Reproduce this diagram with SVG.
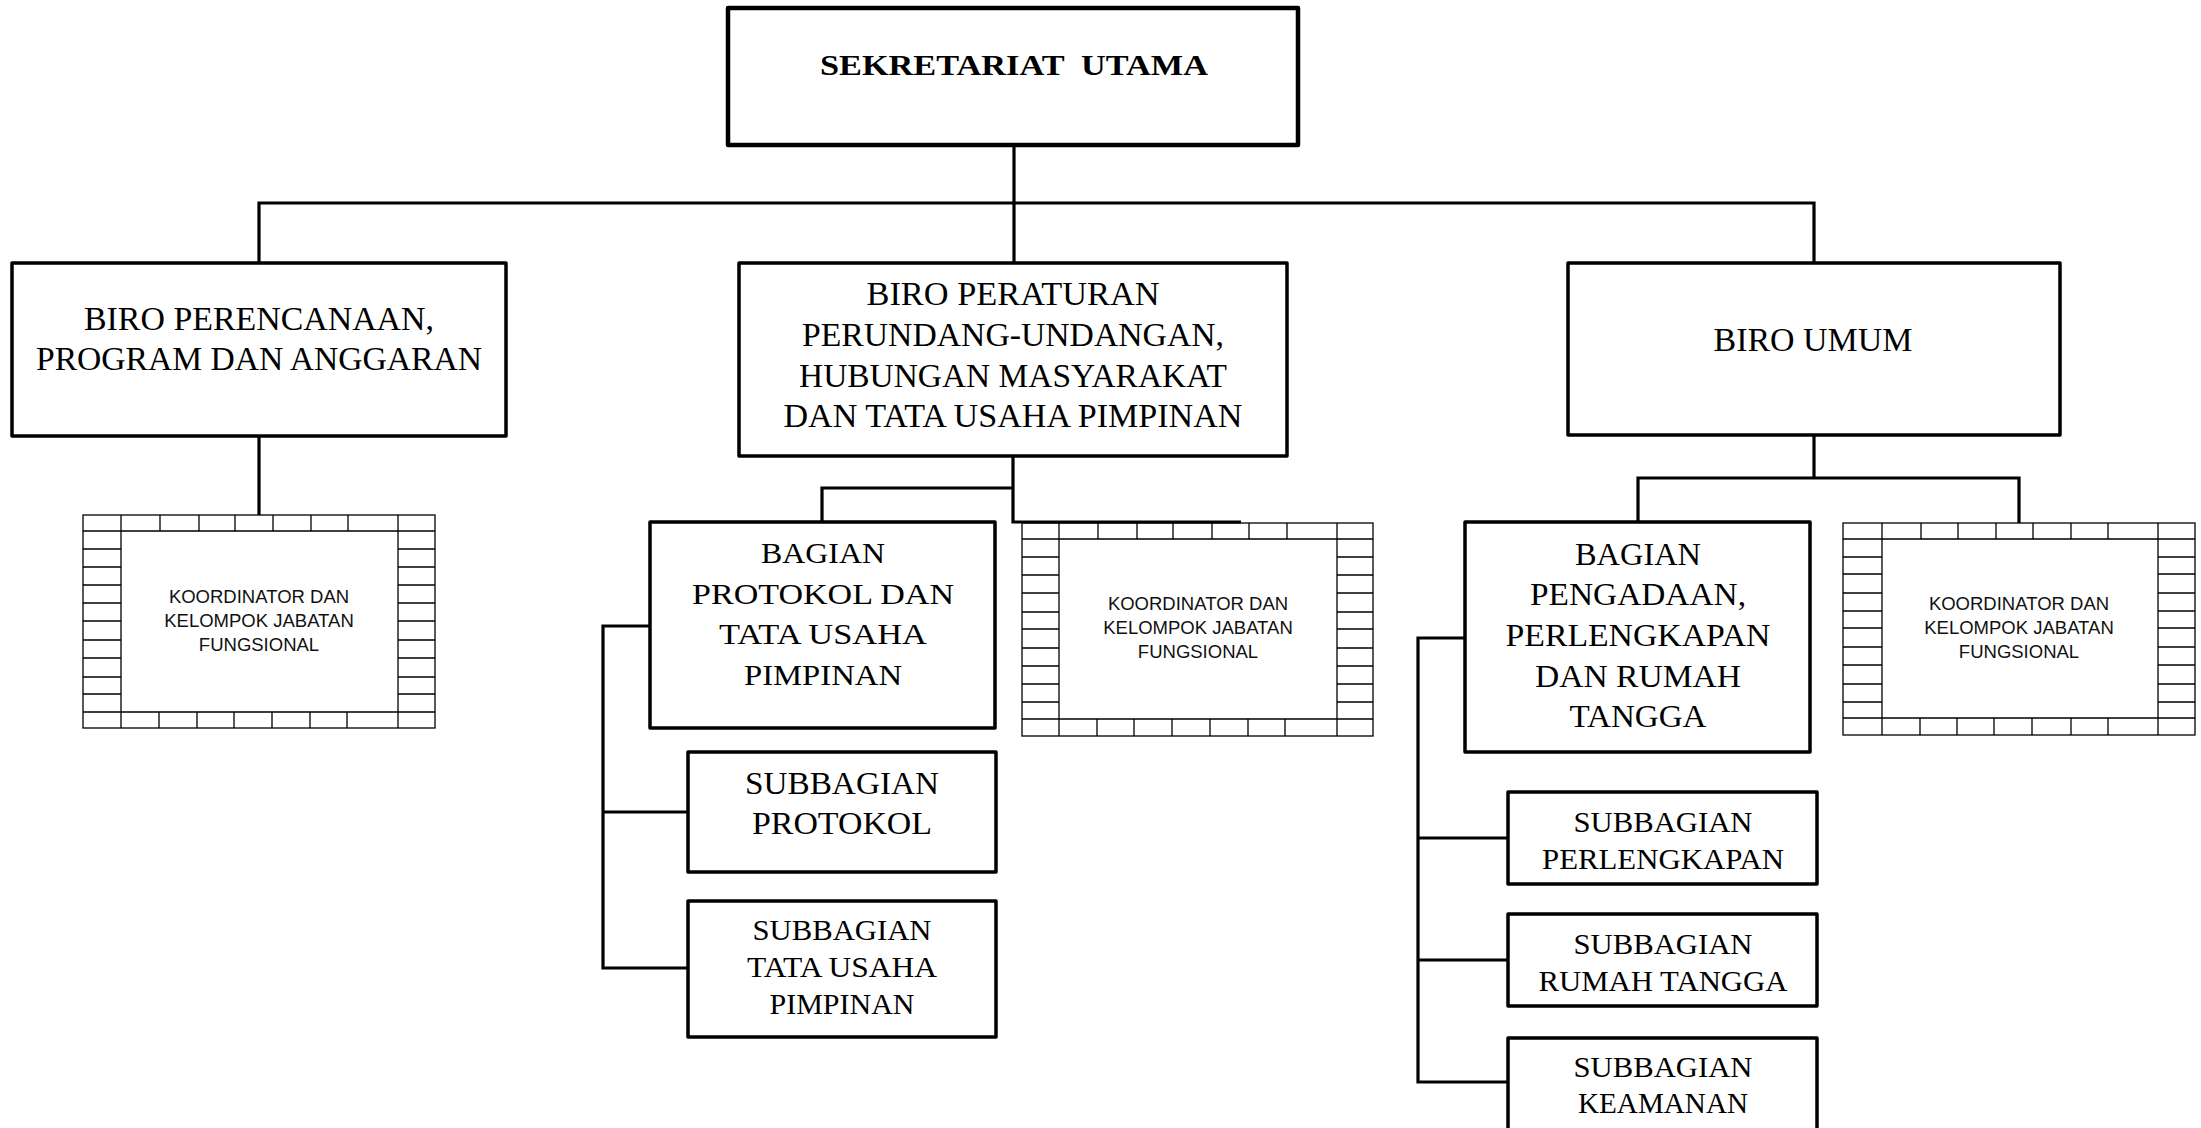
<svg xmlns="http://www.w3.org/2000/svg" width="2201" height="1128" viewBox="0 0 2201 1128">
<style>
.box{fill:#fff;stroke:#000;stroke-width:3.5;stroke-linejoin:round}
.top{stroke-width:4.5}
.conn{fill:none;stroke:#000;stroke-width:3.2;stroke-linejoin:miter}
.brick{fill:#fff;stroke:#000;stroke-width:1.3}
.bl{fill:none;stroke:#000;stroke-width:1.3}
.t{font-family:"Liberation Serif","Times New Roman",serif;text-anchor:middle;fill:#000}
.b{font-weight:bold}
.s{font-family:"Liberation Sans",Arial,sans-serif;font-size:18.5px;text-anchor:middle;fill:#111}
</style>
<rect width="2201" height="1128" fill="#fff"/>

<g id="sekretariat-utama">
<rect class="box top" x="728" y="8" width="570" height="137"/>
<text class="t b" x="1014" y="75" font-size="30" textLength="388" lengthAdjust="spacingAndGlyphs" xml:space="preserve">SEKRETARIAT  UTAMA</text>
</g>

<g id="biro-perencanaan">
<rect class="box" x="12" y="263" width="494" height="173"/>
<text class="t" font-size="34" x="259" y="330" textLength="350" lengthAdjust="spacingAndGlyphs">BIRO PERENCANAAN,</text>
<text class="t" font-size="34" x="259" y="370" textLength="446" lengthAdjust="spacingAndGlyphs">PROGRAM DAN ANGGARAN</text>
</g>

<g id="biro-peraturan">
<rect class="box" x="739" y="263" width="548" height="193"/>
<text class="t" font-size="33" x="1013" y="305" textLength="293" lengthAdjust="spacingAndGlyphs">BIRO PERATURAN</text>
<text class="t" font-size="33" x="1013" y="346" textLength="422" lengthAdjust="spacingAndGlyphs">PERUNDANG-UNDANGAN,</text>
<text class="t" font-size="33" x="1013" y="387" textLength="428" lengthAdjust="spacingAndGlyphs">HUBUNGAN MASYARAKAT</text>
<text class="t" font-size="33" x="1013" y="427" textLength="459" lengthAdjust="spacingAndGlyphs">DAN TATA USAHA PIMPINAN</text>
</g>

<g id="biro-umum">
<rect class="box" x="1568" y="263" width="492" height="172"/>
<text class="t" font-size="34" x="1813" y="351" textLength="199" lengthAdjust="spacingAndGlyphs">BIRO UMUM</text>
</g>

<g id="koordinator-1">
<rect class="brick" x="83" y="515" width="352" height="213"/>
<path class="bl" d="M83,531H435M83,712H435M121,515V728M398,515V728
M160,515V531M199,515V531M235,515V531M273,515V531M311,515V531M348,515V531
M159,712V728M197,712V728M234,712V728M272,712V728M310,712V728M347,712V728
M83,549H121M398,549H435M83,567H121M398,567H435M83,585H121M398,585H435
M83,603H121M398,603H435M83,621H121M398,621H435M83,640H121M398,640H435
M83,658H121M398,658H435M83,677H121M398,677H435M83,694H121M398,694H435"/>
<text class="s" x="259" y="603">KOORDINATOR DAN</text>
<text class="s" x="259" y="627">KELOMPOK JABATAN</text>
<text class="s" x="259" y="651">FUNGSIONAL</text>
</g>

<g id="bagian-protokol">
<rect class="box" x="650" y="522" width="345" height="206"/>
<text class="t" font-size="30" x="823" y="563" textLength="124" lengthAdjust="spacingAndGlyphs">BAGIAN</text>
<text class="t" font-size="30" x="823" y="604" textLength="262" lengthAdjust="spacingAndGlyphs">PROTOKOL DAN</text>
<text class="t" font-size="30" x="823" y="644" textLength="208" lengthAdjust="spacingAndGlyphs">TATA USAHA</text>
<text class="t" font-size="30" x="823" y="685" textLength="158" lengthAdjust="spacingAndGlyphs">PIMPINAN</text>
</g>

<g id="koordinator-2">
<rect class="brick" x="1022" y="523" width="351" height="213"/>
<path class="bl" d="M1022,539H1373M1022,719H1373M1059,523V736M1337,523V736
M1098,523V539M1137,523V539M1173,523V539M1212,523V539M1249,523V539M1287,523V539
M1097,719V736M1134,719V736M1172,719V736M1210,719V736M1248,719V736M1285,719V736
M1022,557H1059M1337,557H1373M1022,575H1059M1337,575H1373M1022,593H1059M1337,593H1373
M1022,612H1059M1337,612H1373M1022,629H1059M1337,629H1373M1022,648H1059M1337,648H1373
M1022,666H1059M1337,666H1373M1022,684H1059M1337,684H1373M1022,702H1059M1337,702H1373"/>
<text class="s" x="1198" y="610">KOORDINATOR DAN</text>
<text class="s" x="1198" y="634">KELOMPOK JABATAN</text>
<text class="s" x="1198" y="658">FUNGSIONAL</text>
</g>

<g id="subbagian-protokol">
<rect class="box" x="688" y="752" width="308" height="120"/>
<text class="t" font-size="31" x="842" y="794" textLength="194" lengthAdjust="spacingAndGlyphs">SUBBAGIAN</text>
<text class="t" font-size="31" x="842" y="834" textLength="180" lengthAdjust="spacingAndGlyphs">PROTOKOL</text>
</g>

<g id="subbagian-tata-usaha">
<rect class="box" x="688" y="901" width="308" height="136"/>
<text class="t" font-size="30" x="842" y="940" textLength="179" lengthAdjust="spacingAndGlyphs">SUBBAGIAN</text>
<text class="t" font-size="30" x="842" y="977" textLength="190" lengthAdjust="spacingAndGlyphs">TATA USAHA</text>
<text class="t" font-size="30" x="842" y="1014" textLength="145" lengthAdjust="spacingAndGlyphs">PIMPINAN</text>
</g>

<g id="bagian-pengadaan">
<rect class="box" x="1465" y="522" width="345" height="230"/>
<text class="t" font-size="31" x="1638" y="565" textLength="126" lengthAdjust="spacingAndGlyphs">BAGIAN</text>
<text class="t" font-size="31" x="1638" y="605" textLength="216" lengthAdjust="spacingAndGlyphs">PENGADAAN,</text>
<text class="t" font-size="31" x="1638" y="646" textLength="265" lengthAdjust="spacingAndGlyphs">PERLENGKAPAN</text>
<text class="t" font-size="31" x="1638" y="687" textLength="206" lengthAdjust="spacingAndGlyphs">DAN RUMAH</text>
<text class="t" font-size="31" x="1638" y="727" textLength="137" lengthAdjust="spacingAndGlyphs">TANGGA</text>
</g>

<g id="koordinator-3">
<rect class="brick" x="1843" y="523" width="352" height="212"/>
<path class="bl" d="M1843,539H2195M1843,718H2195M1882,523V735M2158,523V735
M1921,523V539M1958,523V539M1996,523V539M2033,523V539M2071,523V539M2108,523V539
M1920,718V735M1957,718V735M1994,718V735M2032,718V735M2071,718V735M2108,718V735
M1843,557H1882M2158,557H2195M1843,574H1882M2158,574H2195M1843,593H1882M2158,593H2195
M1843,611H1882M2158,611H2195M1843,628H1882M2158,628H2195M1843,647H1882M2158,647H2195
M1843,665H1882M2158,665H2195M1843,684H1882M2158,684H2195M1843,702H1882M2158,702H2195"/>
<text class="s" x="2019" y="610">KOORDINATOR DAN</text>
<text class="s" x="2019" y="634">KELOMPOK JABATAN</text>
<text class="s" x="2019" y="658">FUNGSIONAL</text>
</g>

<g id="subbagian-perlengkapan">
<rect class="box" x="1508" y="792" width="309" height="92"/>
<text class="t" font-size="30" x="1663" y="832" textLength="179" lengthAdjust="spacingAndGlyphs">SUBBAGIAN</text>
<text class="t" font-size="30" x="1663" y="869" textLength="242" lengthAdjust="spacingAndGlyphs">PERLENGKAPAN</text>
</g>

<g id="subbagian-rumah-tangga">
<rect class="box" x="1508" y="914" width="309" height="92"/>
<text class="t" font-size="30" x="1663" y="954" textLength="179" lengthAdjust="spacingAndGlyphs">SUBBAGIAN</text>
<text class="t" font-size="30" x="1663" y="991" textLength="249" lengthAdjust="spacingAndGlyphs">RUMAH TANGGA</text>
</g>

<g id="subbagian-keamanan">
<rect class="box" x="1508" y="1038" width="309" height="100"/>
<text class="t" font-size="30" x="1663" y="1077" textLength="179" lengthAdjust="spacingAndGlyphs">SUBBAGIAN</text>
<text class="t" font-size="30" x="1663" y="1113" textLength="170" lengthAdjust="spacingAndGlyphs">KEAMANAN</text>
</g>

<g id="connectors">
<path class="conn" d="M1014,145V263"/>
<path class="conn" d="M259,263V203H1814V263"/>
<path class="conn" d="M259,436V515"/>
<path class="conn" d="M1013,456V522H1241"/>
<path class="conn" d="M1013,488H822V522"/>
<path class="conn" d="M650,626H603V968H688"/>
<path class="conn" d="M603,812H688"/>
<path class="conn" d="M1814,435V478"/>
<path class="conn" d="M1638,522V478H2019V523"/>
<path class="conn" d="M1465,638H1418V1082H1508"/>
<path class="conn" d="M1418,838H1508"/>
<path class="conn" d="M1418,960H1508"/>
</g>
</svg>
